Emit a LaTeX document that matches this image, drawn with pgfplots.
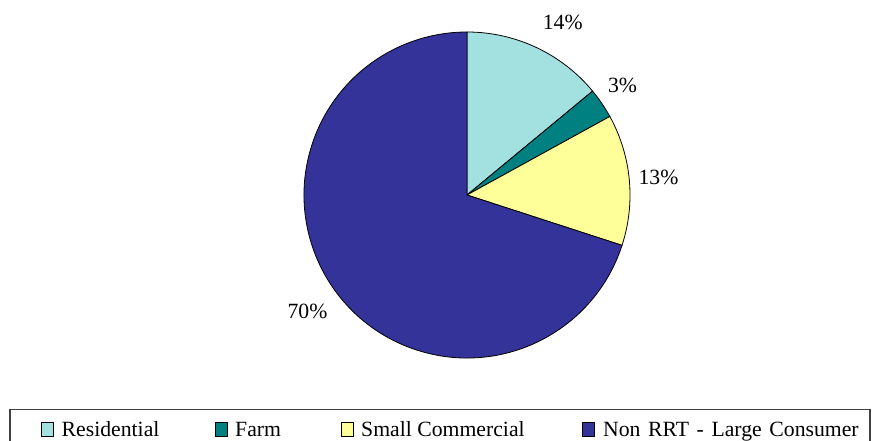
\documentclass[border=0pt]{standalone}
\usepackage{pgfplots}
\usepackage{pgfplotstable}
\pgfplotsset{compat=1.18}
\usepackage{fontspec}
\setmainfont{Liberation Serif}
\definecolor{cRes}{HTML}{A3E0E0}
\definecolor{cFarm}{HTML}{008080}
\definecolor{cSmall}{HTML}{FFFF99}
\definecolor{cNon}{HTML}{333399}

\pgfplotstableread[col sep=comma]{
label,value
Residential,14
Farm,3
Small Commercial,13
Non RRT - Large Consumer,70
}\piedata
\pgfplotstablegetelem{0}{value}\of\piedata \pgfmathsetmacro\vA{\pgfplotsretval}
\pgfplotstablegetelem{1}{value}\of\piedata \pgfmathsetmacro\vB{\pgfplotsretval}
\pgfplotstablegetelem{2}{value}\of\piedata \pgfmathsetmacro\vC{\pgfplotsretval}
\pgfplotstablegetelem{3}{value}\of\piedata \pgfmathsetmacro\vD{\pgfplotsretval}
\pgfmathsetmacro\aA{90}
\pgfmathsetmacro\aB{\aA-3.6*\vA}
\pgfmathsetmacro\aC{\aB-3.6*\vB}
\pgfmathsetmacro\aD{\aC-3.6*\vC}
\pgfmathsetmacro\aE{\aD-3.6*\vD}
\tikzset{lbl/.style={inner sep=0, font=\fontsize{21.8}{25}\selectfont}}
\newcommand{\wsp}{\hspace{7.6bp}}

\begin{document}
\begin{tikzpicture}
\begin{axis}[scale only axis, width=873bp, height=441bp,
  xmin=0, xmax=873, ymin=0, ymax=441, hide axis, clip=false]
\filldraw[fill=cRes, draw=black, line width=0.8bp] (axis cs:467,246) -- (axis cs:{467+163*cos(\aA)},{246+163*sin(\aA)}) arc[start angle=\aA, end angle=\aB, radius=163bp] -- cycle;
\filldraw[fill=cFarm, draw=black, line width=0.8bp] (axis cs:467,246) -- (axis cs:{467+163*cos(\aB)},{246+163*sin(\aB)}) arc[start angle=\aB, end angle=\aC, radius=163bp] -- cycle;
\filldraw[fill=cSmall, draw=black, line width=0.8bp] (axis cs:467,246) -- (axis cs:{467+163*cos(\aC)},{246+163*sin(\aC)}) arc[start angle=\aC, end angle=\aD, radius=163bp] -- cycle;
\filldraw[fill=cNon, draw=black, line width=0.8bp] (axis cs:467,246) -- (axis cs:{467+163*cos(\aD)},{246+163*sin(\aD)}) arc[start angle=\aD, end angle=\aE, radius=163bp] -- cycle;
% data labels
\node[lbl, anchor=base] at (axis cs:562.7,411) {14\%};
\node[lbl, anchor=base] at (axis cs:622.5,348.3) {3\%};
\node[lbl, anchor=base] at (axis cs:658.5,256) {13\%};
\node[lbl, anchor=base] at (axis cs:307.5,122) {70\%};
% legend
\draw[black!75, line width=1.3bp] (axis cs:10,-10) rectangle (axis cs:870,31.3);
\filldraw[fill=cRes, draw=black, line width=0.8bp] (axis cs:41,5) rectangle (axis cs:53.5,18.5);
\node[lbl, anchor=base west] at (axis cs:61.5,4.5) {Residential};
\filldraw[fill=cFarm, draw=black, line width=0.8bp] (axis cs:215,5) rectangle (axis cs:227.5,18.5);
\node[lbl, anchor=base west] at (axis cs:235,4.5) {Farm};
\filldraw[fill=cSmall, draw=black, line width=0.8bp] (axis cs:341,5) rectangle (axis cs:353.5,18.5);
\node[lbl, anchor=base west] at (axis cs:361,4.5) {Small Commercial};
\filldraw[fill=cNon, draw=black, line width=0.8bp] (axis cs:582,5) rectangle (axis cs:594.5,18.5);
\node[lbl, anchor=base west] at (axis cs:603,4.5) {Non\wsp RRT\wsp -\wsp Large\wsp Consumer};
\end{axis}
\pgfresetboundingbox
\useasboundingbox (0,0) rectangle (873bp,441bp);
\end{tikzpicture}
\end{document}
